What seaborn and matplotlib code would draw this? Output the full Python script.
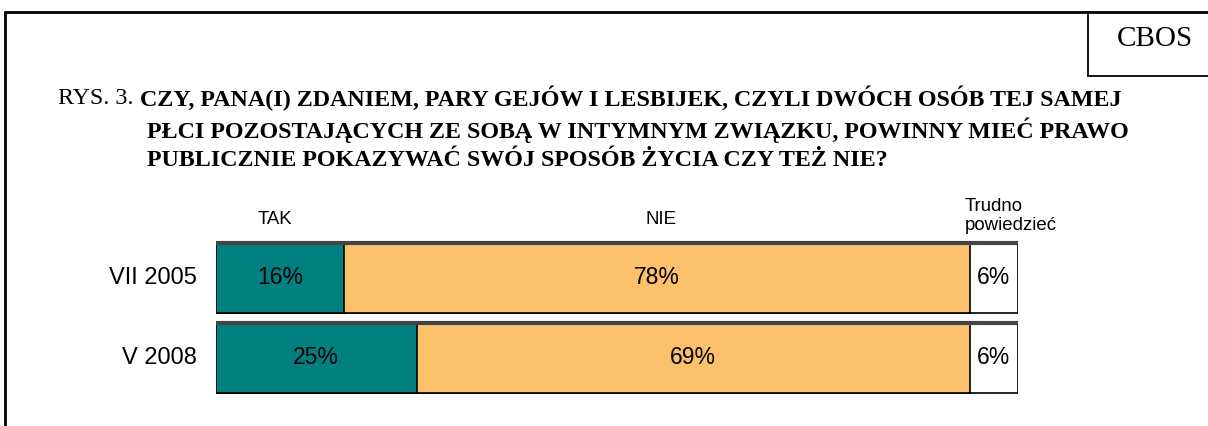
import numpy as np
import pandas as pd
import matplotlib
matplotlib.use("Agg")
import matplotlib.pyplot as plt
import seaborn as sns

# data
okresy = ["VII 2005", "V 2008"]
tak = [16, 25]
nie = [78, 69]
trudno = [6, 6]
kategorie = ["TAK", "NIE", "Trudno\npowiedzieć"]

kolory = ["#008080", "#FDC06B", "#FFFFFF"]

W, H = 1208, 426
sns.set_theme(style="white")
plt.rcParams['font.family'] = ['Liberation Sans', 'DejaVu Sans']
plt.rcParams['text.color'] = 'black'

fig = plt.figure(figsize=(W / 100, H / 100), dpi=100)

def px(x, y):
    return x / W, 1 - y / H

# outer frame and CBOS box
fig.add_artist(plt.Line2D([5 / W, 1], [1 - 12 / H] * 2, color="black", lw=2))
fig.add_artist(plt.Line2D([5 / W] * 2, [0, 1 - 12 / H], color="black", lw=2))
fig.add_artist(plt.Line2D([1088 / W] * 2, [1 - 12 / H, 1 - 76 / H], color="black", lw=1.3))
fig.add_artist(plt.Line2D([1088 / W, 1], [1 - 76 / H] * 2, color="black", lw=1.3))
fig.text(*px(1155, 39), "CBOS", ha="center", va="center", fontsize=21,
         family="Liberation Serif", color="black")

# title
serif = "Liberation Serif"
fig.text(*px(58, 98), "RYS. 3.", ha="left", va="center", fontsize=17.3,
         family=serif, color="black")
linie = ["CZY, PANA(I) ZDANIEM, PARY GEJÓW I LESBIJEK, CZYLI DWÓCH OSÓB TEJ SAMEJ",
         "PŁCI POZOSTAJĄCYCH ZE SOBĄ W INTYMNYM ZWIĄZKU, POWINNY MIEĆ PRAWO",
         "PUBLICZNIE POKAZYWAĆ SWÓJ SPOSÓB ŻYCIA CZY TEŻ NIE?"]
starty = [(140, 98), (147, 130), (147, 160)]
for t, (x, y) in zip(linie, starty):
    fig.text(*px(x, y), t, ha="left", va="center", fontsize=17.3,
             family=serif, weight="bold", color="black")

# bars: stacked via cumulative layers
df = pd.DataFrame({"okres": okresy, "tak": tak, "nie": nie, "trudno": trudno})
df["c1"] = df["tak"]
df["c2"] = df["tak"] + df["nie"]
df["c3"] = df["c2"] + df["trudno"]

ax = fig.add_axes([216 / W, 1 - 398 / H, 802 / W, 160 / H])
for col, kol in zip(["c3", "c2", "c1"], kolory[::-1]):
    sns.barplot(data=df, x=col, y="okres", orient="h", color=kol, width=0.875,
                edgecolor="black", linewidth=1.2, saturation=1, ax=ax)
# darker top edge on each bar
for i in range(len(okresy)):
    ax.plot([0, df["c3"][i]], [i - 0.875 / 2, i - 0.875 / 2], color="#444444", lw=3,
            solid_capstyle="butt")
ax.set_xlim(0, 100)
ax.set_ylim(1.5, -0.5)
ax.axis("off")

# value labels
for i in range(len(okresy)):
    starts = [0, df["c1"][i], df["c2"][i]]
    vals = [tak[i], nie[i], trudno[i]]
    for s, v in zip(starts, vals):
        ax.text(s + v / 2, i, f"{v}%", ha="center", va="center", fontsize=16.5,
                color="black")
    ax.text(-2.4, i, okresy[i], ha="right", va="center", fontsize=17, color="black")

# column headers
fig.text(*px(275, 220), kategorie[0], ha="center", va="center", fontsize=13.4, color="black")
fig.text(*px(661, 220), kategorie[1], ha="center", va="center", fontsize=13.4, color="black")
fig.text(*px(965, 216), kategorie[2], ha="left", va="center", fontsize=13.4,
         linespacing=1.15, color="black")

fig.savefig("out.png", dpi=100, facecolor="white")
